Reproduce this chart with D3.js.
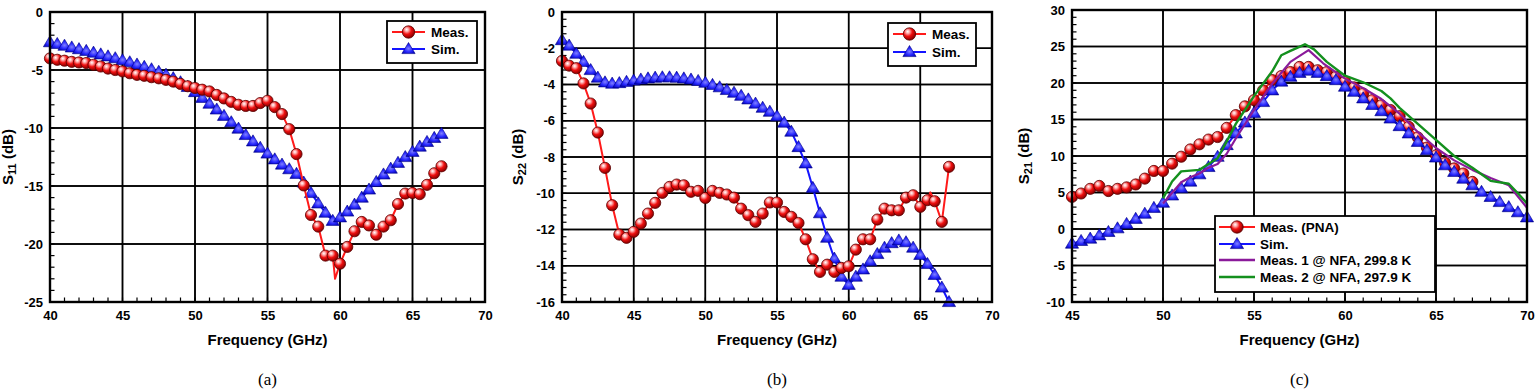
<!DOCTYPE html>
<html><head><meta charset="utf-8">
<script src="https://cdn.jsdelivr.net/npm/d3@7"></script>
<style>
body{margin:0;background:#fff}
svg{display:block}
text{font-family:"Liberation Sans",Arial,Helvetica,sans-serif;font-weight:bold;fill:#000}
</style>
</head><body>
<svg id="chart" width="1536" height="389"></svg>
<script>
// ---------- (a) S11 ----------
const s11Freq = [40,40.5,41,41.5,42,42.5,43,43.5,44,44.5,45,45.5,46,46.5,47,47.5,48,48.5,49,49.5,50,50.5,51,51.5,52,52.5,53,53.5,54,54.5,55,55.5,56,56.5,57,57.5,58,58.5,59,59.5,60,60.5,61,61.5,62,62.5,63,63.5,64,64.5,65,65.5,66,66.5,67];
const s11Meas = [-4.0,-4.12,-4.2,-4.3,-4.35,-4.4,-4.55,-4.7,-4.88,-5.0,-5.12,-5.28,-5.42,-5.5,-5.62,-5.72,-5.85,-6.0,-6.2,-6.4,-6.55,-6.7,-6.85,-7.15,-7.45,-7.75,-8.0,-8.1,-8.1,-7.85,-7.65,-8.2,-8.8,-10.1,-12.25,-14.95,-17.5,-18.5,-21.0,-21.0,-21.7,-20.25,-18.9,-18.1,-18.4,-19.2,-18.5,-17.95,-16.55,-15.65,-15.6,-15.7,-14.9,-13.9,-13.3];
const s11Sim = [-2.6,-2.75,-2.9,-3.05,-3.2,-3.35,-3.5,-3.65,-3.82,-3.98,-4.15,-4.33,-4.52,-4.72,-4.93,-5.15,-5.4,-5.7,-6.05,-6.45,-6.9,-7.4,-7.9,-8.4,-8.95,-9.5,-10.05,-10.6,-11.15,-11.7,-12.2,-12.7,-13.15,-13.55,-13.95,-14.7,-15.6,-16.5,-17.3,-18.0,-17.7,-17.2,-16.6,-16.0,-15.3,-14.65,-14.0,-13.5,-13.0,-12.5,-12.05,-11.6,-11.2,-10.85,-10.5];
const s11MeasLineOnlyFreq = [59.66];
const s11MeasLineOnly = [-23.0];
const s11XTicks = [40,45,50,55,60,65,70];
const s11YTicks = [0,-5,-10,-15,-20,-25];

// ---------- (b) S22 ----------
const s22Freq = s11Freq.slice();
const s22Meas = [-2.7,-2.96,-3.1,-3.94,-5.05,-6.65,-8.6,-10.66,-12.28,-12.46,-12.13,-11.67,-11.12,-10.53,-9.98,-9.65,-9.52,-9.56,-9.92,-9.87,-10.26,-9.87,-9.98,-10.07,-10.24,-10.85,-11.21,-11.58,-11.12,-10.51,-10.51,-11.03,-11.3,-11.64,-12.54,-13.64,-14.34,-13.94,-14.34,-14.12,-14.03,-13.11,-12.54,-12.54,-11.45,-10.85,-10.94,-10.94,-10.24,-10.11,-10.75,-10.38,-10.44,-11.58,-8.54];
const s22Sim = [-1.55,-1.85,-2.3,-2.75,-3.2,-3.62,-3.88,-3.95,-3.92,-3.85,-3.78,-3.72,-3.66,-3.62,-3.6,-3.6,-3.62,-3.66,-3.72,-3.8,-3.9,-4.02,-4.15,-4.3,-4.45,-4.62,-4.82,-5.05,-5.28,-5.5,-5.75,-6.1,-6.6,-7.45,-8.35,-9.7,-11.1,-12.45,-13.6,-14.6,-15.05,-14.6,-14.2,-13.75,-13.35,-13.0,-12.75,-12.6,-12.7,-13.0,-13.4,-13.9,-14.5,-15.2,-16.0];
const s22MeasLineOnlyFreq = [65.7];
const s22MeasLineOnly = [-9.95];
const s22XTicks = [40,45,50,55,60,65,70];
const s22YTicks = [0,-2,-4,-6,-8,-10,-12,-14,-16];

// ---------- (c) S21 ----------
const s21MeasFreq = [45,45.5,46,46.5,47,47.5,48,48.5,49,49.5,50,50.5,51,51.5,52,52.5,53,53.5,54,54.5,55,55.5,56,56.5,57,57.5,58,58.5,59,59.5,60,60.5,61,61.5,62,62.5,63,63.5,64,64.5,65,65.5,66,66.5,67];
const s21Meas = [4.4,4.86,5.5,5.9,5.2,5.5,5.7,6.1,6.9,7.95,7.95,8.95,9.9,10.9,11.6,12.25,12.6,13.85,15.6,16.8,17.65,19.0,20.4,20.95,21.5,22.2,22.2,21.75,21.5,20.85,20.2,19.4,18.55,17.65,16.95,16.3,15.45,14.0,12.55,11.15,10.1,9.05,8.3,7.6,6.45];
const s21SimFreq = [45,45.5,46,46.5,47,47.5,48,48.5,49,49.5,50,50.5,51,51.5,52,52.5,53,53.5,54,54.5,55,55.5,56,56.5,57,57.5,58,58.5,59,59.5,60,60.5,61,61.5,62,62.5,63,63.5,64,64.5,65,65.5,66,66.5,67,67.5,68,68.5,69,69.5,70];
const s21Sim = [-2.0,-1.63,-1.31,-0.86,-0.4,0.1,0.7,1.4,2.1,2.9,3.6,4.6,5.6,6.5,7.5,8.5,9.9,11.5,13.1,14.6,15.9,17.4,19.0,20.2,20.86,21.4,21.7,21.4,20.95,20.4,19.5,18.8,17.9,17.0,16.15,15.14,14.1,13.1,11.94,10.8,9.8,8.74,7.83,6.9,6.0,5.1,4.4,3.7,3.0,2.3,1.6];
const s21Nfa1Freq = [50,51,51.5,52,52.5,53,53.5,54,55,56,57,58,58.8,60,61,62,63,64,65,66,67,68,69,70];
const s21Nfa1 = [3.5,6.4,7.1,7.6,8.4,8.9,10.3,12.4,16.3,19.9,22.9,24.5,22.7,20.6,19.3,17.8,15.8,13.3,11.1,9.4,8.1,7.0,6.0,2.9];
const s21Nfa2Freq = [50,50.5,51,51.5,52,52.5,53,53.5,54,55,56,56.5,57,57.8,58.3,59,60,61,62,62.5,63,64,65,66,67,68,69,69.5,70];
const s21Nfa2 = [4.2,6.5,7.9,8.0,8.1,8.9,9.7,12.0,14.4,18.2,21.6,23.8,24.4,25.3,24.6,22.9,21.0,20.1,18.9,17.9,16.6,14.4,12.2,10.0,8.4,6.6,6.2,4.9,3.5];
const s21XTicks = [45,50,55,60,65,70];
const s21YTicks = [30,25,20,15,10,5,0,-5,-10];

// ---------- drawing ----------
const svg = d3.select('#chart');
const defs = svg.append('defs');
const rg = defs.append('radialGradient').attr('id','gRed').attr('cx','38%').attr('cy','35%').attr('r','65%').attr('fx','35%').attr('fy','30%');
rg.append('stop').attr('offset','0%').attr('stop-color','#ffffff');
rg.append('stop').attr('offset','22%').attr('stop-color','#ffb0b0');
rg.append('stop').attr('offset','55%').attr('stop-color','#f01010');
rg.append('stop').attr('offset','100%').attr('stop-color','#8a0000');
const bgr = defs.append('radialGradient').attr('id','gBlue').attr('cx','50%').attr('cy','55%').attr('r','60%');
bgr.append('stop').attr('offset','0%').attr('stop-color','#8080ff');
bgr.append('stop').attr('offset','50%').attr('stop-color','#2a2aff');
bgr.append('stop').attr('offset','100%').attr('stop-color','#0000b0');

const RED = '#ff1a1a', BLUE = '#1414ff', PURPLE = '#8a1a9a', GREEN = '#14901e';
const triPath = 'M0,-6.5L6.6,4.6L-6.6,4.6Z';

function drawCircles(g, pts, x, y) {
  g.append('g').selectAll('circle').data(pts).join('circle')
    .attr('cx', d => x(d[0])).attr('cy', d => y(d[1])).attr('r', 5.6)
    .attr('fill', 'url(#gRed)').attr('stroke', '#5a0000').attr('stroke-width', 0.8);
}
function drawTriangles(g, pts, x, y) {
  g.append('g').selectAll('path').data(pts).join('path')
    .attr('transform', d => `translate(${x(d[0])},${y(d[1])})`)
    .attr('d', triPath).attr('fill', 'url(#gBlue)').attr('stroke', '#00008a').attr('stroke-width', 0.6);
}
function drawLine(g, pts, x, y, color, w) {
  g.append('path').datum(pts)
    .attr('d', d3.line().x(d => x(d[0])).y(d => y(d[1])))
    .attr('fill', 'none').attr('stroke', color).attr('stroke-width', w).attr('stroke-linejoin', 'round');
}

function panel(cfg) {
  const x = d3.scaleLinear().domain(cfg.xDomain).range([cfg.left, cfg.right]);
  const y = d3.scaleLinear().domain(cfg.yDomain).range([cfg.bottom, cfg.top]);
  const g = svg.append('g');
  // grid as outlined cells between consecutive major ticks
  const xs = cfg.xTicks.slice().sort((a, b) => a - b);
  const ys = cfg.yTicks.slice().sort((a, b) => a - b);
  const cells = [];
  for (let i = 0; i < xs.length - 1; i++)
    for (let j = 0; j < ys.length - 1; j++)
      cells.push({ xa: xs[i], xb: xs[i + 1], ya: ys[j], yb: ys[j + 1] });
  g.append('g').selectAll('rect').data(cells).join('rect')
    .attr('x', d => x(d.xa)).attr('y', d => y(d.yb))
    .attr('width', d => x(d.xb) - x(d.xa)).attr('height', d => y(d.ya) - y(d.yb))
    .attr('fill', 'none').attr('stroke', '#000').attr('stroke-width', 1.5);
  // minor ticks as small filled rects
  const xm = d3.range(cfg.xDomain[0], cfg.xDomain[1] + 1e-9, cfg.xMinor);
  const ym = d3.range(cfg.yDomain[0], cfg.yDomain[1] + 1e-9, cfg.yMinor);
  g.append('g').selectAll('rect').data(xm).join('rect')
    .attr('x', d => x(d) - 0.6).attr('y', cfg.bottom - 4.5).attr('width', 1.2).attr('height', 4.5)
    .attr('fill', '#000');
  g.append('g').selectAll('rect').data(ym).join('rect')
    .attr('x', cfg.left).attr('y', d => y(d) - 0.6).attr('width', 4.5).attr('height', 1.2)
    .attr('fill', '#000');

  const ax = g.append('g').attr('transform', `translate(0,${cfg.bottom})`)
    .call(d3.axisBottom(x).tickValues(cfg.xTicks).tickSize(0).tickPadding(9).tickFormat(d => String(d)));
  const ay = g.append('g').attr('transform', `translate(${cfg.left},0)`)
    .call(d3.axisLeft(y).tickValues(cfg.yTicks).tickSize(0).tickPadding(7).tickFormat(d => String(d)));
  [ax, ay].forEach(a => {
    a.select('.domain').remove();
    a.selectAll('text').attr('font-size', 13).attr('fill', '#000')
      .style('font-family', '"Liberation Sans",Arial,sans-serif').style('font-weight', 'bold');
  });
  const sg = g.append('g');
  cfg.series(sg, x, y);
  g.append('rect').attr('x', cfg.left).attr('y', cfg.top)
    .attr('width', cfg.right - cfg.left).attr('height', cfg.bottom - cfg.top)
    .attr('fill', 'none').attr('stroke', '#000').attr('stroke-width', 2.4);
  g.append('text').attr('x', (cfg.left + cfg.right) / 2).attr('y', cfg.bottom + 43)
    .attr('text-anchor', 'middle').attr('font-size', 15).text('Frequency (GHz)');
  const yt = g.append('text').attr('transform', `translate(${cfg.yTitleX},${(cfg.top + cfg.bottom) / 2}) rotate(-90)`)
    .attr('text-anchor', 'middle').attr('font-size', 15);
  yt.append('tspan').text('S');
  yt.append('tspan').attr('font-size', 11).attr('dy', 3).text(cfg.sub);
  yt.append('tspan').attr('dy', -3).text(' (dB)');
  svg.append('text').attr('x', (cfg.left + cfg.right) / 2).attr('y', 385)
    .attr('text-anchor', 'middle').attr('font-size', 17)
    .style('font-family', '"Liberation Serif","Times New Roman",serif').style('font-weight', 'normal')
    .text(cfg.caption);
  // legend
  const L = cfg.legend;
  const lg = svg.append('g');
  lg.append('rect').attr('x', L.x).attr('y', L.y).attr('width', L.w).attr('height', L.h)
    .attr('fill', '#fff').attr('stroke', '#000').attr('stroke-width', 1.8);
  L.items.forEach(it => {
    lg.append('path').attr('d', `M${L.sx0},${it.cy}L${L.sx1},${it.cy}`)
      .attr('stroke', it.color).attr('stroke-width', it.w || 2);
    const mx = (L.sx0 + L.sx1) / 2;
    if (it.marker === 'circle') {
      lg.append('circle').attr('cx', mx).attr('cy', it.cy).attr('r', 6.2)
        .attr('fill', 'url(#gRed)').attr('stroke', '#5a0000').attr('stroke-width', 0.8);
    } else if (it.marker === 'tri') {
      lg.append('path').attr('transform', `translate(${mx},${it.cy})`).attr('d', triPath)
        .attr('fill', 'url(#gBlue)').attr('stroke', '#00008a').attr('stroke-width', 0.6);
    }
    lg.append('text').attr('x', L.tx).attr('y', it.cy).attr('dy', '0.36em')
      .attr('font-size', 13.5).text(it.label);
  });
}

// (a)
panel({
  left: 50, right: 485, top: 12, bottom: 302,
  xDomain: [40, 70], yDomain: [-25, 0], xTicks: s11XTicks, yTicks: s11YTicks, xMinor: 1, yMinor: 1,
  yTitleX: 13, sub: '11', caption: '(a)',
  series: (g, x, y) => {
    const sim = d3.zip(s11Freq, s11Sim);
    const meas = d3.zip(s11Freq, s11Meas);
    const measLine = meas.concat(d3.zip(s11MeasLineOnlyFreq, s11MeasLineOnly)).sort((a, b) => a[0] - b[0]);
    drawLine(g, sim, x, y, BLUE, 2);
    drawTriangles(g, sim, x, y);
    drawLine(g, measLine, x, y, RED, 2);
    drawCircles(g, meas, x, y);
  },
  legend: { x: 387, y: 21, w: 90, h: 42, sx0: 392, sx1: 425, tx: 431,
    items: [{ cy: 32, color: RED, marker: 'circle', label: 'Meas.' }, { cy: 49, color: BLUE, marker: 'tri', label: 'Sim.' }] }
});

// (b)
panel({
  left: 562, right: 992, top: 12, bottom: 302,
  xDomain: [40, 70], yDomain: [-16, 0], xTicks: s22XTicks, yTicks: s22YTicks, xMinor: 1, yMinor: 0.4,
  yTitleX: 523, sub: '22', caption: '(b)',
  series: (g, x, y) => {
    const sim = d3.zip(s22Freq, s22Sim);
    const meas = d3.zip(s22Freq, s22Meas);
    const measLine = meas.concat(d3.zip(s22MeasLineOnlyFreq, s22MeasLineOnly)).sort((a, b) => a[0] - b[0]);
    drawLine(g, sim, x, y, BLUE, 2);
    drawTriangles(g, sim, x, y);
    drawLine(g, measLine, x, y, RED, 2);
    drawCircles(g, meas, x, y);
  },
  legend: { x: 888, y: 23, w: 88, h: 43, sx0: 893, sx1: 926, tx: 932,
    items: [{ cy: 34, color: RED, marker: 'circle', label: 'Meas.' }, { cy: 52, color: BLUE, marker: 'tri', label: 'Sim.' }] }
});

// (c)
panel({
  left: 1072, right: 1527, top: 10, bottom: 302,
  xDomain: [45, 70], yDomain: [-10, 30], xTicks: s21XTicks, yTicks: s21YTicks, xMinor: 1, yMinor: 1,
  yTitleX: 1029, sub: '21', caption: '(c)',
  series: (g, x, y) => {
    const sim = d3.zip(s21SimFreq, s21Sim);
    const meas = d3.zip(s21MeasFreq, s21Meas);
    drawLine(g, meas, x, y, RED, 2);
    drawCircles(g, meas, x, y);
    drawLine(g, sim, x, y, BLUE, 2);
    drawTriangles(g, sim, x, y);
    drawLine(g, d3.zip(s21Nfa1Freq, s21Nfa1), x, y, PURPLE, 2.2);
    drawLine(g, d3.zip(s21Nfa2Freq, s21Nfa2), x, y, GREEN, 2.4);
  },
  legend: { x: 1215, y: 216, w: 220, h: 76, sx0: 1219, sx1: 1255, tx: 1260,
    items: [
      { cy: 227, color: RED, marker: 'circle', label: 'Meas. (PNA)' },
      { cy: 244, color: BLUE, marker: 'tri', label: 'Sim.' },
      { cy: 260, color: PURPLE, marker: null, label: 'Meas. 1 @ NFA, 299.8 K', w: 2.6 },
      { cy: 277, color: GREEN, marker: null, label: 'Meas. 2 @ NFA, 297.9 K', w: 2.6 }
    ] }
});
</script>
</body></html>
